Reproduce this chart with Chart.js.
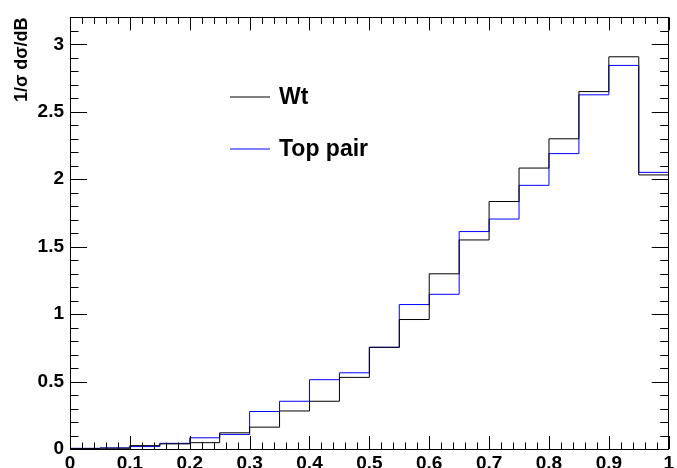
<!DOCTYPE html>
<html>
<head>
<meta charset="utf-8">
<script src="https://cdn.jsdelivr.net/npm/chart.js@4/dist/chart.umd.min.js"></script>
<style>
  html, body { margin: 0; padding: 0; background: #fff; }
  #wrap { width: 677px; height: 468px; }
</style>
</head>
<body>
<div id="wrap"><canvas id="BChart" width="677" height="468"></canvas></div>
<script>
// bin low edges (width 0.05) and normalised distributions
const binLow = [0, 0.05, 0.1, 0.15, 0.2, 0.25, 0.3, 0.35, 0.4, 0.45,
                0.5, 0.55, 0.6, 0.65, 0.7, 0.75, 0.8, 0.85, 0.9, 0.95];
const binHigh = 1.0;
const wtValues = [0.003, 0.006, 0.025, 0.038, 0.047, 0.12, 0.162, 0.282, 0.354, 0.531,
                  0.754, 0.960, 1.299, 1.550, 1.835, 2.083, 2.30, 2.65, 2.908, 2.032];
const ttValues = [0.005, 0.008, 0.018, 0.042, 0.083, 0.108, 0.278, 0.354, 0.514, 0.565,
                  0.754, 1.071, 1.147, 1.612, 1.705, 1.955, 2.19, 2.626, 2.844, 2.051];
const seriesNames = ['Wt', 'Top pair'];
const seriesColors = ['#000000', '#0000ff'];
const yTitle = '1/\u03C3 d\u03C3/dB';

// histogram as step line: one point per low edge plus the last high edge
function toSteps(vals) {
    const pts = binLow.map((x, i) => ({ x: x, y: vals[i] }));
    pts.push({ x: binHigh, y: vals[vals.length - 1] });
    return pts;
}

const ctx_B = document.getElementById('BChart').getContext('2d');

// frame with ROOT style inward ticks, plus the legend
const rootFrame = {
    id: 'rootFrame',
    afterDraw(chart) {
        const c = chart.ctx;
        const a = chart.chartArea;
        const xs = chart.scales.x, ys = chart.scales.y;
        c.save();
        c.strokeStyle = '#000';
        c.lineWidth = 1;
        c.strokeRect(Math.round(a.left) + 0.5, Math.round(a.top) + 0.5,
                     Math.round(a.right - a.left) - 1, Math.round(a.bottom - a.top));
        c.beginPath();
        // x ticks every 0.02, major every 0.1
        for (let k = 0; k <= 50; k++) {
            const px = Math.round(xs.getPixelForValue(k * 0.02)) + 0.5;
            const len = (k % 5 === 0) ? 13 : 6.5;
            c.moveTo(px, a.bottom); c.lineTo(px, a.bottom - len);
            c.moveTo(px, a.top); c.lineTo(px, a.top + len);
        }
        // y ticks every 0.1, major every 0.5
        for (let k = 0; k <= 32; k++) {
            const py = Math.round(ys.getPixelForValue(k * 0.1)) + 0.5;
            const len = (k % 5 === 0) ? 17 : 8.5;
            c.moveTo(a.left, py); c.lineTo(a.left + len, py);
            c.moveTo(a.right, py); c.lineTo(a.right - len, py);
        }
        c.stroke();

        // legend
        const rows = [97, 149];
        c.font = 'bold 23px "Liberation Sans", Arial, sans-serif';
        c.textBaseline = 'middle';
        seriesNames.forEach((name, i) => {
            c.strokeStyle = seriesColors[i];
            c.lineWidth = 1.2;
            c.beginPath();
            c.moveTo(230, rows[i]); c.lineTo(270, rows[i]);
            c.stroke();
            c.fillStyle = '#000';
            c.fillText(name, 279, rows[i] + 1);
        });
        c.restore();
    }
};

const tickFont = { family: '"Liberation Sans", Arial, sans-serif', size: 19, weight: 'bold' };

const bChart = new Chart(ctx_B, {
    type: 'line',
    data: {
        datasets: seriesNames.map((name, i) => ({
            label: name,
            data: toSteps(i === 0 ? wtValues : ttValues),
            borderColor: seriesColors[i],
            borderWidth: 1,
            stepped: 'before', // horizontal across the bin, then vertical
            pointRadius: 0,
            fill: false
        }))
    },
    options: {
        responsive: false,
        animation: false,
        layout: { autoPadding: false, padding: { top: 15, right: 2, left: 0, bottom: 0 } },
        plugins: {
            legend: { display: false },
            tooltip: { enabled: false }
        },
        scales: {
            x: {
                type: 'linear',
                min: 0,
                max: 1,
                grid: { display: false, drawTicks: false },
                border: { display: false },
                ticks: {
                    stepSize: 0.1,
                    padding: 3,
                    color: '#000',
                    font: tickFont,
                    maxRotation: 0,
                    autoSkip: false,
                    callback: v => String(Math.round(v * 10) / 10)
                },
                afterFit: s => { s.height = 19; }
            },
            y: {
                min: 0,
                max: 3.2,
                grid: { display: false, drawTicks: false },
                border: { display: false },
                ticks: {
                    stepSize: 0.5,
                    padding: 6,
                    color: '#000',
                    font: tickFont,
                    callback: v => String(Math.round(v * 10) / 10)
                },
                afterBuildTicks: s => {
                    s.ticks = s.ticks.filter(t => Math.abs(t.value * 2 - Math.round(t.value * 2)) < 1e-6);
                },
                title: {
                    display: true,
                    text: yTitle,
                    align: 'end',
                    color: '#000',
                    font: { family: '"Liberation Sans", Arial, sans-serif', size: 18, weight: 'bold' },
                    padding: { top: 11, bottom: 0 }
                },
                afterFit: s => { s.width = 70; }
            }
        }
    },
    plugins: [rootFrame]
});
</script>
</body>
</html>
